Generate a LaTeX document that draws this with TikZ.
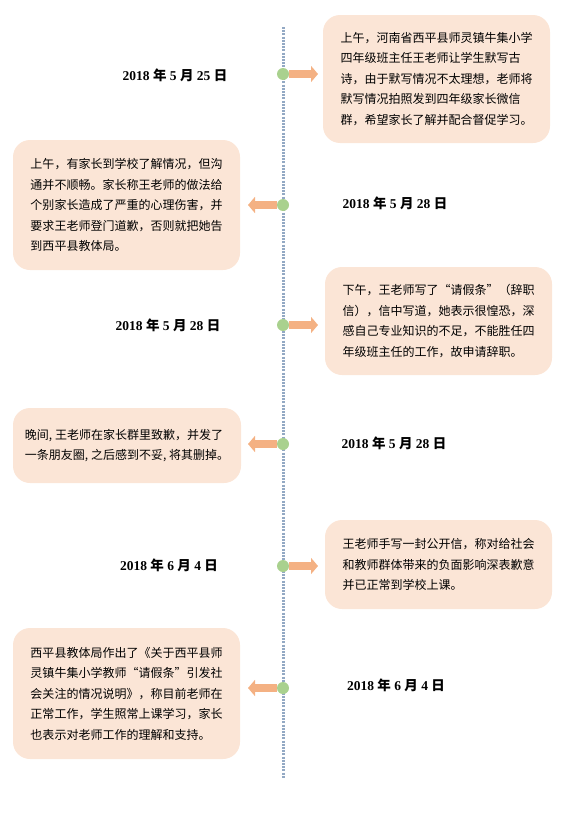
\documentclass[tikz,border=0pt]{standalone}
\usepackage{fontspec}
\setmainfont{Liberation Serif}
\newfontfamily\cjk{Noto Sans CJK SC}
\usetikzlibrary{arrows.meta}
\definecolor{boxfill}{HTML}{FBE5D6}
\definecolor{arrowc}{HTML}{F4B183}
\definecolor{dotc}{HTML}{A9D18E}
\definecolor{linec}{HTML}{93A9C4}
\newcommand\dte[2]{2018 {\cjk 年} #1 {\cjk 月} #2 {\cjk 日}}
\begin{document}
\begin{tikzpicture}[x=1pt,y=-1pt,
 evbox/.style={fill=boxfill, rounded corners=17pt, inner sep=0pt, align=left, font=\cjk\fontsize{12}{20.5}\selectfont},
 dotn/.style={circle, fill=dotc, minimum size=12pt, inner sep=0pt},
 datelbl/.style={font=\fontsize{13.5}{15}\selectfont\bfseries},
 arr/.style={draw=arrowc, line width=8pt, -{Triangle[length=7pt 0 0, width=16pt 0 0]}}
]
\useasboundingbox (0,0) rectangle (563,819);
\coordinate (top) at (283,27);
\coordinate (bot) at (283,778);
\draw[linec, line width=3pt, dash pattern=on 2pt off 1.2pt] (top) -- (bot);

\node[evbox, minimum width=227pt, minimum height=128pt] (b1) at (436.5,79) {上午，河南省西平县师灵镇牛集小学\\四年级班主任王老师让学生默写古\\诗，由于默写情况不太理想，老师将\\默写情况拍照发到四年级家长微信\\群，希望家长了解并配合督促学习。};
\node[evbox, minimum width=227pt, minimum height=130pt] (b2) at (126.5,205) {上午，有家长到学校了解情况，但沟\\通并不顺畅。家长称王老师的做法给\\个别家长造成了严重的心理伤害，并\\要求王老师登门道歉，否则就把她告\\到西平县教体局。};
\node[evbox, minimum width=227pt, minimum height=108pt] (b3) at (438.5,321) {下午，王老师写了“请假条”（辞职\\信），信中写道，她表示很惶恐，深\\感自己专业知识的不足，不能胜任四\\年级班主任的工作，故申请辞职。};
\node[evbox, minimum width=228pt, minimum height=75pt] (b4) at (127,445.5) {晚间, 王老师在家长群里致歉，并发了\\一条朋友圈, 之后感到不妥, 将其删掉。};
\node[evbox, minimum width=227pt, minimum height=89pt] (b5) at (438.5,564.5) {王老师手写一封公开信，称对给社会\\和教师群体带来的负面影响深表歉意\\并已正常到学校上课。};
\node[evbox, minimum width=227pt, minimum height=131pt] (b6) at (126.5,693.5) {西平县教体局作出了《关于西平县师\\灵镇牛集小学教师“请假条”引发社\\会关注的情况说明》，称目前老师在\\正常工作，学生照常上课学习，家长\\也表示对老师工作的理解和支持。};

\node[dotn] (d1) at (283,74) {};
\node[dotn] (d2) at (283,205) {};
\node[dotn] (d3) at (283,325) {};
\node[dotn] (d4) at (283,444) {};
\node[dotn] (d5) at (283,566) {};
\node[dotn] (d6) at (283,688) {};

\coordinate (a1) at (318,74);
\coordinate (a2) at (248,205);
\coordinate (a3) at (318,325);
\coordinate (a4) at (248,444);
\coordinate (a5) at (318,566);
\coordinate (a6) at (248,688);
\draw[arr] (d1) -- (a1);
\draw[arr] (d2) -- (a2);
\draw[arr] (d3) -- (a3);
\draw[arr] (d4) -- (a4);
\draw[arr] (d5) -- (a5);
\draw[arr] (d6) -- (a6);

\node[datelbl] (t1) at (175,75) {\dte{5}{25}};
\node[datelbl] (t2) at (395,203) {\dte{5}{28}};
\node[datelbl] (t3) at (168,325) {\dte{5}{28}};
\node[datelbl] (t4) at (394,443) {\dte{5}{28}};
\node[datelbl] (t5) at (169,565) {\dte{6}{4}};
\node[datelbl] (t6) at (396,685) {\dte{6}{4}};
\end{tikzpicture}
\end{document}
